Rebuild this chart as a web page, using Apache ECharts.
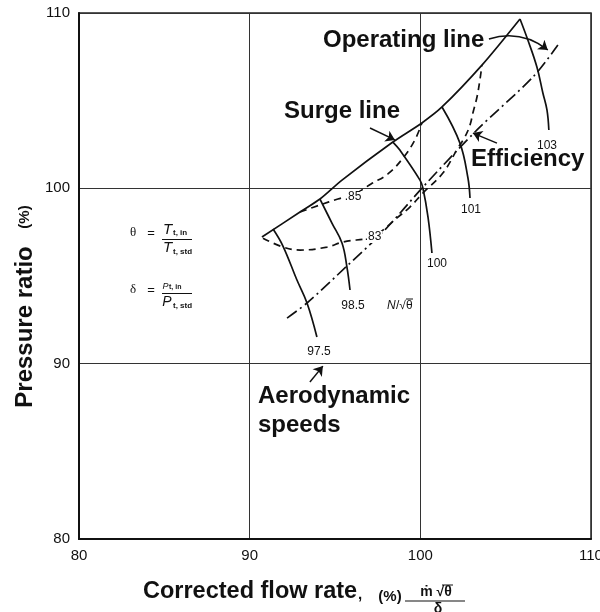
<!DOCTYPE html>
<html>
<head>
<meta charset="utf-8">
<script src="https://cdn.jsdelivr.net/npm/echarts@6/dist/echarts.min.js"></script>
<style>
  html, body { margin: 0; padding: 0; background: #fff; }
  #chart { width: 600px; height: 612px; }
</style>
</head>
<body>
<div id="chart"></div>
<script>
// Axis ticks (percent of design point)
const xTicks = [80, 90, 100, 110];
const yTicks = [80, 90, 100, 110];

// Surge line: [corrected flow %, pressure ratio %]
const surgeLine = [[90.72, 97.22], [92.95, 98.65], [94.12, 99.39], [95.41, 100.47], [98.39, 102.64],
  [100.09, 103.73], [101.27, 104.64], [103.61, 107.03], [105.84, 109.66]];

// Steady-state operating line
const operatingLine = [[92.19, 92.60], [93.36, 93.46], [95.70, 95.57], [97.94, 97.65], [100.15, 100.07],
  [103.32, 103.33], [106.60, 106.35], [108.06, 108.17]];

// Constant-efficiency contours
const eff85 = [[92.95, 98.65], [94.12, 99.05], [95.17, 99.39], [96.05, 99.62], [97.11, 100.25],
  [98.10, 100.82], [98.98, 101.72], [99.68, 102.76], [100.09, 103.73]];
const eff83 = [[90.78, 97.16], [91.95, 96.65], [92.95, 96.48], [94.53, 96.65], [95.47, 96.94],
  [97.22, 97.22], [97.81, 97.62], [98.63, 98.31], [99.39, 98.93], [100.15, 99.73], [101.32, 100.87],
  [102.20, 102.30], [102.61, 102.93], [102.91, 103.61], [103.08, 104.30], [103.32, 105.21],
  [103.49, 106.18], [103.61, 107.03]];

// Constant corrected-speed lines N/sqrt(theta)
const speed975 = [[91.37, 97.68], [91.95, 96.71], [92.77, 94.77], [93.36, 93.46], [93.94, 91.52]];
const speed985 = [[94.12, 99.39], [94.82, 98.02], [95.41, 96.88], [95.70, 95.51], [95.88, 94.20]];
const speed100 = [[98.39, 102.64], [98.80, 102.18], [99.98, 100.47], [100.15, 100.02], [100.45, 98.36], [100.68, 96.31]];
const speed101 = [[101.27, 104.64], [102.32, 102.58], [102.79, 100.59], [102.91, 99.45]];
const speed103 = [[105.84, 109.66], [106.30, 108.46], [106.83, 106.92], [107.18, 105.44], [107.42, 104.47], [107.53, 103.33]];

const speedNames = ['97.5', '98.5', '100', '101', '103'];
const effNames = ['.85', '.83'];

// Annotation arrows, in data units: [from, to, curveness]
const arrows = [
  [[97.05, 103.44], [98.51, 102.76], 0],      // Surge line
  [[104.49, 102.58], [103.08, 103.15], 0],    // Efficiency
  [[104.02, 108.52], [107.47, 107.89], 0.26], // Operating line
  [[93.53, 88.95], [94.29, 89.86], 0]         // Aerodynamic speeds
];

const FONT = '"Liberation Sans", Arial, Helvetica, sans-serif';
const INK = '#111';

function curve(data, type, smooth) {
  return {
    type: 'line', data: data, showSymbol: false, symbol: 'none', smooth: smooth,
    lineStyle: { color: INK, width: 1.7, type: type }, silent: true, z: 3
  };
}

const chart = echarts.init(document.getElementById('chart'), null, { renderer: 'canvas' });

function txt(x, y, text, size, opts) {
  const o = opts || {};
  return {
    type: 'text', x: x, y: y, rotation: o.rotation || 0, z: 10,
    style: {
      text: text, fill: INK, font: (o.style || '') + ' ' + (o.weight || 'bold') + ' ' + size + 'px ' + (o.family || FONT),
      align: o.align || 'center', verticalAlign: 'middle',
      backgroundColor: o.bg, padding: o.bg ? [0, 1] : 0
    }
  };
}
function seg(x1, y1, x2, y2, w) {
  return { type: 'line', z: 10, shape: { x1: x1, y1: y1, x2: x2, y2: y2 }, style: { stroke: INK, lineWidth: w || 1 } };
}

const option = {
  animation: false,
  backgroundColor: '#fff',
  grid: {
    left: 79, right: 9, top: 13, bottom: 73, outerBoundsMode: 'none', containLabel: false,
    show: true, borderColor: '#222', borderWidth: 1.5, backgroundColor: 'transparent'
  },
  xAxis: {
    type: 'value', min: xTicks[0], max: xTicks[xTicks.length - 1], interval: 10,
    axisLine: { show: true, lineStyle: { color: '#111', width: 2 } },
    axisTick: { show: false },
    axisLabel: { color: INK, fontSize: 15, fontFamily: FONT, margin: 9, hideOverlap: false },
    splitLine: { show: true, lineStyle: { color: '#333', width: 1 } }
  },
  yAxis: {
    type: 'value', min: yTicks[0], max: yTicks[yTicks.length - 1], interval: 10,
    axisLine: { show: true, lineStyle: { color: '#111', width: 2 } },
    axisTick: { show: false },
    axisLabel: { color: INK, fontSize: 15, fontFamily: FONT, margin: 9 },
    splitLine: { show: true, lineStyle: { color: '#333', width: 1 } }
  },
  series: [
    curve(surgeLine, 'solid', 0.3),
    curve(operatingLine, [12, 4, 2, 4], 0.3),
    curve(eff85, [7, 5], 0.4),
    curve(eff83, [7, 5], 0.4),
    curve(speed975, 'solid', 0.4),
    curve(speed985, 'solid', 0.4),
    curve(speed100, 'solid', 0.4),
    curve(speed101, 'solid', 0.4),
    curve(speed103, 'solid', 0.4),
    {
      type: 'lines', coordinateSystem: 'cartesian2d', z: 4, silent: true,
      symbol: ['none', 'arrow'], symbolSize: 9,
      lineStyle: { color: INK, width: 1.5, opacity: 1 },
      data: arrows.map(a => ({ coords: [a[0], a[1]], lineStyle: { curveness: a[2] } }))
    }
  ],
  graphic: [
    // Curve annotations
    txt(323, 40, 'Operating line', 24, { align: 'left' }),
    txt(400, 111, 'Surge line', 24, { align: 'right' }),
    txt(471, 159, 'Efficiency', 24, { align: 'left' }),
    txt(258, 396, 'Aerodynamic', 24, { align: 'left' }),
    txt(258, 425, 'speeds', 24, { align: 'left' }),
    // Speed and efficiency labels
    txt(319, 352, speedNames[0], 12, { weight: 'normal' }),
    txt(353, 306, speedNames[1], 12, { weight: 'normal' }),
    txt(437, 264, speedNames[2], 12, { weight: 'normal' }),
    txt(471, 210, speedNames[3], 12, { weight: 'normal' }),
    txt(547, 146, speedNames[4], 12, { weight: 'normal' }),
    txt(353, 197, effNames[0], 12, { weight: 'normal', bg: '#fff' }),
    txt(373, 237, effNames[1], 12, { weight: 'normal', bg: '#fff' }),
    txt(387, 306, 'N', 12, { weight: 'normal', style: 'italic', align: 'left' }),
    txt(396, 306, '/√θ', 12, { weight: 'normal', align: 'left' }),
    seg(406, 299, 413, 299, 1),
    // Definitions of theta and delta
    txt(133, 233, 'θ', 13, { weight: 'normal', family: '"Liberation Serif", serif' }),
    txt(151, 233, '=', 13, { weight: 'normal' }),
    txt(167.5, 230, 'T', 15, { weight: 'normal', style: 'italic' }),
    txt(173, 233, 't, in', 8, { align: 'left' }),
    seg(162, 239.5, 192, 239.5, 1),
    txt(167.5, 248, 'T', 15, { weight: 'normal', style: 'italic' }),
    txt(173, 252, 't, std', 8, { align: 'left' }),
    txt(133, 290, 'δ', 13, { weight: 'normal', family: '"Liberation Serif", serif' }),
    txt(151, 290, '=', 13, { weight: 'normal' }),
    txt(165.5, 286, 'P', 9, { weight: 'normal', style: 'italic' }),
    txt(169, 287.5, 't, in', 7, { align: 'left' }),
    seg(162, 293.5, 192, 293.5, 1),
    txt(167, 302, 'P', 14, { weight: 'normal', style: 'italic' }),
    txt(173, 305.5, 't, std', 8, { align: 'left' }),
    // Axis titles
    txt(25, 327, 'Pressure ratio', 24, { rotation: Math.PI / 2 }),
    txt(25, 217, '(%)', 15, { rotation: Math.PI / 2 }),
    txt(143, 592, 'Corrected flow rate', 23.5, { align: 'left' }),
    txt(358, 595, ',', 15, { align: 'left' }),
    txt(390, 597, '(%)', 15),
    txt(436, 592, 'ṁ √θ', 14),
    seg(442, 585, 453, 585, 1),
    seg(405, 601, 465, 601, 1.2),
    txt(438, 609, 'δ', 14)
  ]
};

chart.setOption(option);
</script>
</body>
</html>
